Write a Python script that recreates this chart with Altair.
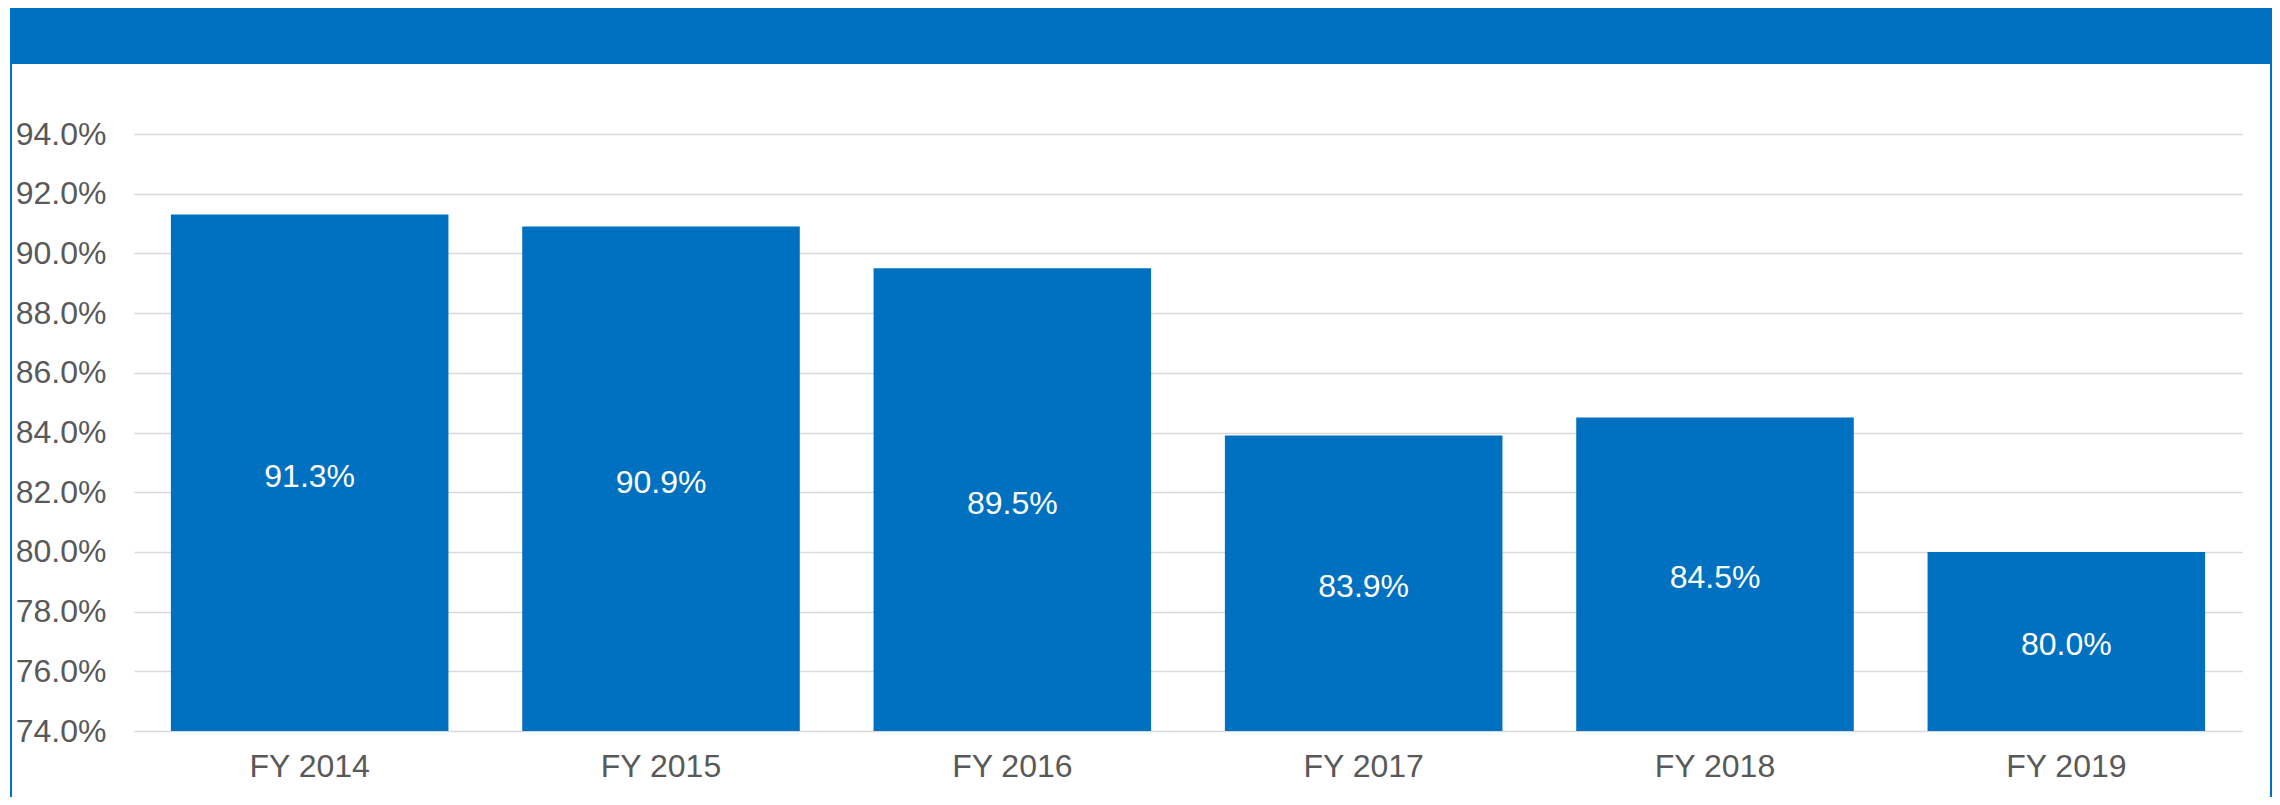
import altair as alt
import pandas as pd

years = ["FY 2014", "FY 2015", "FY 2016", "FY 2017", "FY 2018", "FY 2019"]
values = [0.913, 0.909, 0.895, 0.839, 0.845, 0.800]
y_ticks = [0.74, 0.76, 0.78, 0.80, 0.82, 0.84, 0.86, 0.88, 0.90, 0.92, 0.94]

BLUE = "#0070C0"
FONT = "Liberation Sans"
W, H = 2108, 597

df = pd.DataFrame({"year": years, "v": values})

x_enc = alt.X("year:N", sort=years, title=None,
              scale=alt.Scale(paddingInner=0.21, paddingOuter=0.105),
              axis=alt.Axis(labelAngle=0, ticks=False, domain=False, labelFontSize=32,
                            labelColor="#595959", labelFont=FONT, labelPadding=20, grid=False))

base = alt.Chart(df)

bars = base.mark_bar(color=BLUE).encode(
    x=x_enc,
    y=alt.Y("v:Q", title=None,
            scale=alt.Scale(domain=[0.74, 0.94], nice=False, zero=False, clamp=True),
            axis=alt.Axis(values=y_ticks, format=".1%", ticks=False, domain=False,
                          labelFontSize=32, labelColor="#595959", labelFont=FONT,
                          labelPadding=28, gridColor="#d9d9d9", gridWidth=1.5)),
    y2=alt.datum(0.74),
)

labels = base.transform_calculate(mid="(datum.v + 0.74) / 2").mark_text(
    color="white", fontSize=32, font=FONT, baseline="middle", align="center", dy=4
).encode(
    x=alt.X("year:N", sort=years),
    y=alt.Y("mid:Q"),
    text=alt.Text("v:Q", format=".1%"),
)

one = alt.Chart(pd.DataFrame({"a": [0]}))
frame = one.mark_rect(fill="transparent", stroke=BLUE, strokeWidth=2).encode(
    x=alt.value(-123), x2=alt.value(2137), y=alt.value(-125), y2=alt.value(720)
)
header = one.mark_rect(fill=BLUE).encode(
    x=alt.value(-123), x2=alt.value(2137), y=alt.value(-125), y2=alt.value(-70)
)

chart = alt.layer(header, frame, bars, labels).properties(
    width=W, height=H,
    background="white",
    autosize=alt.AutoSizeParams(type="none"),
    padding={"left": 126, "top": 126, "right": 30, "bottom": 66},
).configure_view(strokeWidth=0, stroke="transparent")

chart.save("out.html", embed_options={"renderer": "svg", "actions": False})
